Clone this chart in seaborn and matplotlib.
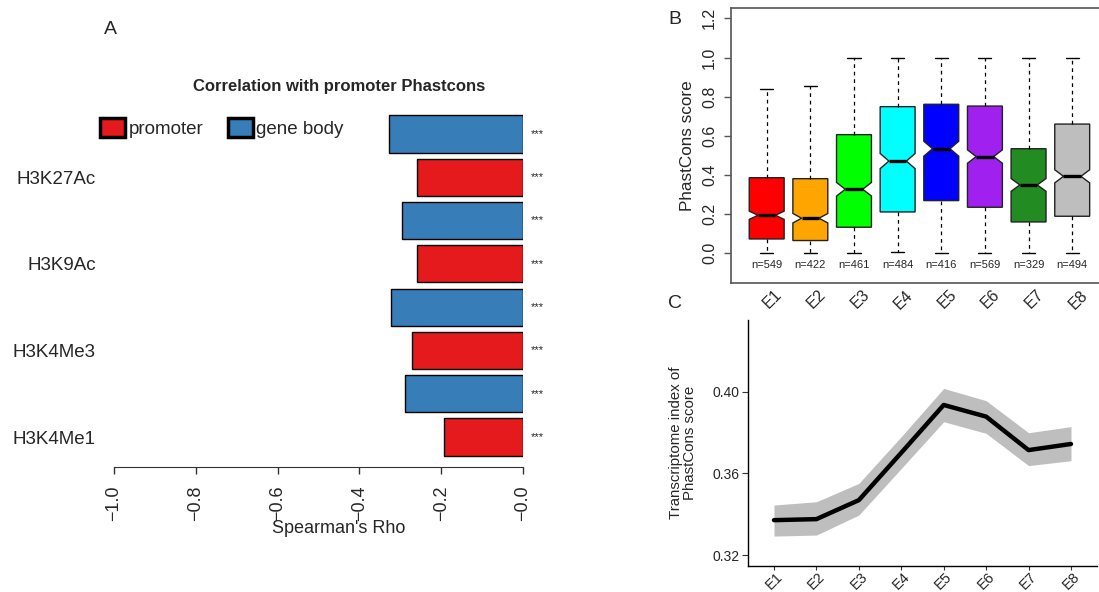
import numpy as np
import pandas as pd
import matplotlib
matplotlib.use('Agg')
import matplotlib.pyplot as plt
import matplotlib.transforms as mtrans
from matplotlib.patches import Patch
import seaborn as sns

# Panel A : correlation with promoter Phastcons
marks = ['H3K27Ac', 'H3K9Ac', 'H3K4Me3', 'H3K4Me1']
rho_genebody = [-0.327, -0.295, -0.322, -0.289]
rho_promoter = [-0.260, -0.259, -0.272, -0.193]
signif = ['***', '***', '***', '***']

# Panel B : PhastCons score boxplots per stage
stages = ['E1', 'E2', 'E3', 'E4', 'E5', 'E6', 'E7', 'E8']
box_lo = [0.0, 0.0, 0.0, 0.005, 0.0, 0.0, 0.0, 0.0]
box_q1 = [0.073, 0.065, 0.133, 0.211, 0.269, 0.235, 0.160, 0.189]
box_med = [0.194, 0.179, 0.327, 0.471, 0.534, 0.494, 0.349, 0.393]
box_q3 = [0.386, 0.381, 0.606, 0.749, 0.761, 0.752, 0.534, 0.660]
box_hi = [0.837, 0.853, 1.0, 1.0, 1.0, 1.0, 1.0, 1.0]
box_n = [549, 422, 461, 484, 416, 569, 329, 494]
box_colors = ['#FF0000', '#FFA500', '#00FF00', '#00FFFF', '#0000FF', '#A020F0', '#228B22', '#BEBEBE']

# Panel C : transcriptome index of PhastCons score
ti_mean = [0.3371, 0.3376, 0.3469, 0.3701, 0.3935, 0.3878, 0.3714, 0.3744]
ti_upper = [0.3445, 0.3461, 0.3551, 0.3780, 0.4016, 0.3956, 0.3799, 0.3829]
ti_lower = [0.3293, 0.3298, 0.3396, 0.3624, 0.3853, 0.3796, 0.3638, 0.3662]

sns.set_style('white')
plt.rcParams['font.family'] = ['Liberation Sans', 'DejaVu Sans']

W, H = 1099, 592
fig = plt.figure(figsize=(W / 100, H / 100), dpi=100)


def px_axes(x0, y0, x1, y1):
    # axes from pixel box (top-left origin)
    return fig.add_axes([x0 / W, 1 - y1 / H, (x1 - x0) / W, (y1 - y0) / H])


def fmt(v):
    return ('%.1f' % v).replace('-', '\u2212')


# ---------------- A ----------------
red_a, blue_a = '#E41A1C', '#377EB8'
rows = []
for m, gb, pr in zip(marks, rho_genebody, rho_promoter):
    rows.append({'row': m + ' gb', 'rho': gb, 'region': 'gene body'})
    rows.append({'row': m, 'rho': pr, 'region': 'promoter'})
dfA = pd.DataFrame(rows)

axA = px_axes(114, 112, 523, 467)
sns.barplot(data=dfA, x='rho', y='row', hue='region', orient='h',
            palette={'promoter': red_a, 'gene body': blue_a}, saturation=1,
            dodge=False, width=0.86, edgecolor='black', linewidth=1,
            legend=False, ax=axA)
axA.set_xlim(-1.0, 0.0)
axA.set_ylim(7.693, -0.508)
for s in ['top', 'right', 'left']:
    axA.spines[s].set_visible(False)
axA.spines['bottom'].set_color('#333333')
xt = np.round(np.arange(-1.0, 0.01, 0.2), 1)
axA.set_xticks(xt)
axA.set_xticklabels([fmt(v) for v in xt], rotation=90, fontsize=13)
axA.tick_params(axis='x', bottom=True, length=5, width=1, color='#333333', pad=8)
axA.set_yticks([1, 3, 5, 7])
axA.set_yticklabels(marks, fontsize=13.5)
axA.tick_params(axis='y', left=False, length=0, pad=13)
axA.set_xlabel("Spearman's Rho", fontsize=13, va='center')
axA.xaxis.set_label_coords(0.549, -0.172)
axA.set_ylabel('')
for i, st in enumerate(signif):
    for j in (2 * i, 2 * i + 1):
        axA.text(0.034, j, st, fontsize=8, ha='center', va='center', clip_on=False)

axA.legend(handles=[Patch(facecolor=red_a, edgecolor='black', linewidth=2.5),
                    Patch(facecolor=blue_a, edgecolor='black', linewidth=2.5)],
           labels=['promoter', 'gene body'], ncol=2, frameon=False,
           fontsize=13.5, handlelength=1.33, handleheight=1.2, handletextpad=0.2,
           columnspacing=1.3, borderpad=0, borderaxespad=0,
           loc='upper left', bbox_to_anchor=(100 / W, 1 - 118 / H),
           bbox_transform=fig.transFigure)

fig.text(339 / W, 1 - 87 / H, 'Correlation with promoter Phastcons', fontsize=12,
         fontweight='bold', ha='center', va='center')
fig.text(110 / W, 1 - 30 / H, 'A', fontsize=14, ha='center', va='center')

# ---------------- B ----------------
axB = px_axes(730.9, 8, 1108, 283)
stats = []
for i in range(len(stages)):
    iqr = box_q3[i] - box_q1[i]
    half = 1.58 * iqr / np.sqrt(box_n[i])
    stats.append({'whislo': box_lo[i], 'q1': box_q1[i], 'med': box_med[i],
                  'q3': box_q3[i], 'whishi': box_hi[i],
                  'cilo': box_med[i] - half, 'cihi': box_med[i] + half,
                  'fliers': [], 'label': stages[i]})
bp = axB.bxp(stats, positions=np.arange(1, 9), widths=0.8, capwidths=0.3,
             shownotches=True, showfliers=False, patch_artist=True,
             boxprops=dict(edgecolor='#222222', linewidth=1),
             whiskerprops=dict(color='black', linewidth=0.9, linestyle=(0, (3, 3))),
             capprops=dict(color='black', linewidth=1),
             medianprops=dict(color='black', linewidth=2.4))
for patch, c in zip(bp['boxes'], box_colors):
    patch.set_facecolor(c)
axB.set_xlim(0.18, 8.82)
axB.set_ylim(-0.152, 1.253)
for s in axB.spines.values():
    s.set_visible(True)
    s.set_color('#555555')
    s.set_linewidth(1.2)
yt = np.round(np.arange(0, 1.21, 0.2), 1)
axB.set_yticks(yt)
axB.set_yticklabels([fmt(v) for v in yt], rotation=90, va='center', fontsize=11.5)
axB.tick_params(axis='y', left=True, length=5, width=1, color='#555555', pad=5)
axB.set_xticks(np.arange(1, 9))
axB.set_xticklabels(stages, rotation=45, fontsize=11.5, ha='center')
axB.tick_params(axis='x', bottom=False, length=0, pad=3)
shift = mtrans.ScaledTranslation(6 / 100, 0, fig.dpi_scale_trans)
for lab in axB.get_xticklabels():
    lab.set_transform(lab.get_transform() + shift)
for i, n in enumerate(box_n):
    axB.text(i + 1, -0.06, 'n=%d' % n, fontsize=8, ha='center', va='center')
axB.set_ylabel('PhastCons score', fontsize=12.3, va='center')
axB.yaxis.set_label_coords(-0.114, 0.5)
fig.text(675 / W, 1 - 20 / H, 'B', fontsize=14, ha='center', va='center')

# ---------------- C ----------------
axC = px_axes(748, 320, 1097, 565.7)
xpos = np.arange(len(stages))
axC.fill_between(xpos, ti_lower, ti_upper, color='#BEBEBE', linewidth=0)
sns.lineplot(x=xpos, y=ti_mean, color='black', linewidth=3.2, ax=axC)
axC.set_xlim(-0.613, 7.613)
axC.set_ylim(0.3148, 0.4351)
for s in ['top', 'right']:
    axC.spines[s].set_visible(False)
for s in ['left', 'bottom']:
    axC.spines[s].set_color('black')
    axC.spines[s].set_linewidth(1)
axC.set_yticks([0.32, 0.36, 0.40])
axC.set_yticklabels(['0.32', '0.36', '0.40'], fontsize=10)
axC.set_xticks(xpos)
axC.set_xticklabels(stages, rotation=45, fontsize=10.5, ha='center')
axC.tick_params(axis='y', left=True, length=4, width=0.8, color='#333333', pad=2)
axC.tick_params(axis='x', bottom=True, length=3, width=0.8, color='#333333', pad=0)
axC.set_ylabel('Transcriptome index of\nPhastCons score', fontsize=10.8, va='center',
               linespacing=1.0)
axC.yaxis.set_label_coords(-0.186, 0.5)
fig.text(675 / W, 1 - 303 / H, 'C', fontsize=14, ha='center', va='center')

fig.savefig('out.png', dpi=100)
